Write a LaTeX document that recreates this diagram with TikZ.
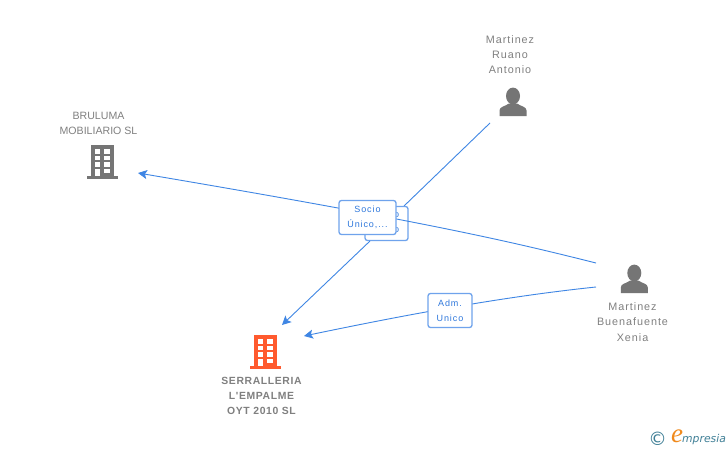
\documentclass[tikz,border=0pt]{standalone}
\usepackage{fontspec}
\setmainfont[LetterSpace=9]{Liberation Sans}
\newfontfamily\capsfont{Liberation Sans}
\newfontfamily\boldcaps[LetterSpace=6]{Liberation Sans}
\newfontfamily\tagfont[LetterSpace=10]{Liberation Sans}
\newfontfamily\logofont{DejaVu Sans}
\newfontfamily\logoserif{Liberation Serif}
\usetikzlibrary{arrows.meta}
\definecolor{linkblue}{HTML}{3F86E4}
\definecolor{boxblue}{HTML}{6FA3EC}
\definecolor{labelblue}{HTML}{2F78DC}
\definecolor{greyicon}{HTML}{757575}
\definecolor{greytext}{HTML}{808080}
\definecolor{orangeicon}{HTML}{FF5A2E}
\definecolor{logoblue}{HTML}{3F7F96}
\definecolor{logoorange}{HTML}{F08A1D}
\tikzset{
  x=1pt,y=-1pt,
  link/.style={linkblue,line width=0.9pt},
  arrowlink/.style={link,-{Stealth[length=9pt,width=9pt,inset=2pt]}},
  tag/.style={draw=boxblue,line width=1.3pt,rounded corners=2.5pt,fill=white,text=labelblue,font=\tagfont\fontsize{9}{15}\selectfont,align=center,inner sep=0pt},
  caption/.style={text=greytext,font=\fontsize{10.8}{15.2}\selectfont,align=center,inner sep=0pt},
  capscaption/.style={text=greytext,font=\capsfont\fontsize{10.6}{15.2}\selectfont,align=center,inner sep=0pt},
  maincaption/.style={text=greytext,font=\boldcaps\fontsize{10.4}{15.2}\selectfont\bfseries,align=center,inner sep=0pt},
  pics/building/.style={code={
    \fill[#1] (-11.5,-17) rectangle (11,15);
    \fill[#1] (-15.5,13.5) rectangle (15.5,16.5);
    \foreach \yy in {-12.7,-6.2,0.3}{
      \fill[white] (-7.5,\yy) rectangle (-2.2,\yy+4.4);
      \fill[white] (1.9,\yy) rectangle (7.1,\yy+4.4);}
    \fill[white] (-7.5,6.8) rectangle (-2.2,14);
    \fill[white] (1.9,6.8) rectangle (7.1,11);
  }},
  pics/person/.style={code={
    \fill[#1] (0,-6.5) ellipse (7 and 8.4);
    \fill[#1] (-13.5,13.5) -- (-13.5,8) .. controls (-13.5,4) and (-8,4) .. (-4,1) -- (4,1)
      .. controls (8,4) and (13.5,4) .. (13.5,8) -- (13.5,13.5) -- cycle;
  }}
}
\begin{document}
\begin{tikzpicture}
\useasboundingbox (0,0) rectangle (728,450);
\fill[white] (0,0) rectangle (728,450);
% anchors for the ends of the connectors
\coordinate (ruanoEnd) at (490,123);
\coordinate (xeniaTop) at (596,263);
\coordinate (xeniaLow) at (596,287);
\coordinate (brulumaEnd) at (138,173);
\coordinate (serraEndA) at (282,325);
\coordinate (serraEndB) at (304,336);
% captions and icons
\node[capscaption] (brulumaText) at (98.5,123.5) {BRULUMA\\MOBILIARIO SL};
\pic at (102.5,162) {building=greyicon};
\node[caption] (ruanoText) at (510,54.5) {Martinez\\Ruano\\Antonio};
\pic at (513,102.5) {person=greyicon};
\node[caption] (xeniaText) at (632.5,322) {Martinez\\Buenafuente\\Xenia};
\pic at (634.3,279.5) {person=greyicon};
\pic at (265.5,352) {building=orangeicon};
\node[maincaption] (serraText) at (261.5,396) {SERRALLERIA\\L'EMPALME\\OYT 2010 SL};
% connectors
\draw[link] (ruanoEnd) -- (404,206);
\node[tag,minimum width=43pt,minimum height=34pt] (backTag) at (386.5,223.5) {};
\node[text=labelblue,font=\tagfont\fontsize{9}{15}\selectfont,inner sep=0pt,align=center] (backText) at (396.5,223) {o\\o};
\draw[arrowlink] (xeniaTop) .. controls (520,244) and (440,224) .. (brulumaEnd);
\draw[arrowlink] (370,241) -- (serraEndA);
\draw[arrowlink] (xeniaLow) .. controls (500,297) and (400,316) .. (serraEndB);
% labels on the connectors
\node[tag,minimum width=57pt,minimum height=34pt] (frontTag) at (367.5,217.5) {Socio\\Único,...};
\node[tag,minimum width=44pt,minimum height=34pt] (admTag) at (450,310.5) {Adm.\\Unico};
% logo
\node[text=logoblue,font=\logofont\fontsize{18.5}{18}\selectfont,inner sep=0pt] (logoC) at (657.5,438.5) {©};
\node[text=logoorange,font=\logoserif\itshape\fontsize{27}{27}\selectfont,inner sep=0pt] (logoE) at (677,436.5) {e};
\node[text=logoblue,font=\logofont\itshape\fontsize{10.8}{12}\selectfont,inner sep=0pt,anchor=west] (logoT) at (682,439.5) {mpresia};
\end{tikzpicture}
\end{document}
